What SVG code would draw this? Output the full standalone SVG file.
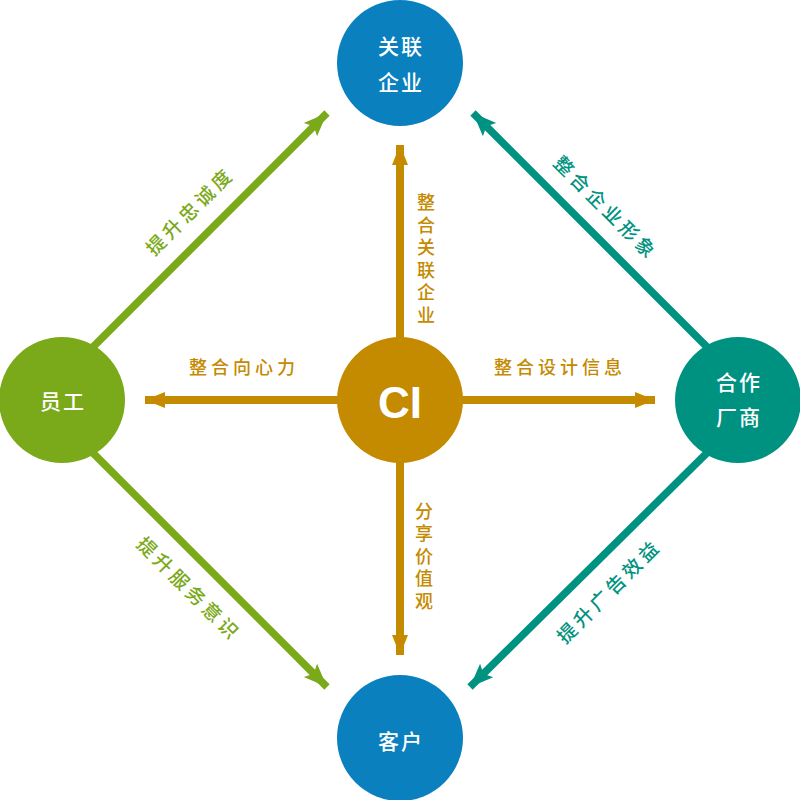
<svg xmlns="http://www.w3.org/2000/svg" width="800" height="800" viewBox="0 0 800 800">
<defs>
<marker id="mg" viewBox="0 0 10 8" refX="10" refY="4" markerWidth="3.4" markerHeight="2.5" markerUnits="strokeWidth" orient="auto"><path d="M0,0 L10,4 L0,8 L2,4 Z" fill="#7aa919"/></marker>
<marker id="mt" viewBox="0 0 10 8" refX="10" refY="4" markerWidth="3.4" markerHeight="2.5" markerUnits="strokeWidth" orient="auto"><path d="M0,0 L10,4 L0,8 L2,4 Z" fill="#009281"/></marker>
<marker id="mo" viewBox="0 0 10 8" refX="10" refY="4" markerWidth="3.3" markerHeight="2" markerUnits="strokeWidth" orient="auto"><path d="M0,0 L10,4 L0,8 Z" fill="#c48a00"/></marker>
</defs>
<style>
text{font-family:"Noto Sans CJK SC","Noto Sans",sans-serif;text-anchor:middle;dominant-baseline:central}
.w{fill:#fff;font-size:21px;font-weight:500;letter-spacing:2px}
.o{fill:#c48a00;font-size:18px;font-weight:500;letter-spacing:4px}
.v{writing-mode:vertical-rl;text-orientation:upright;letter-spacing:4.5px}
.g{fill:#7aa919;font-size:19px;font-weight:500;letter-spacing:4px}
.t{fill:#009281;font-size:19px;font-weight:500;letter-spacing:4px}
.lg{stroke:#7aa919;stroke-width:7.5;fill:none}
.lt{stroke:#009281;stroke-width:7.5;fill:none}
.lo{stroke:#c48a00;stroke-width:8;fill:none}
</style>
<g id="connectors">
<line class="lg" x1="80" y1="360" x2="327" y2="113" marker-end="url(#mg)"/>
<line class="lg" x1="80" y1="440" x2="327" y2="687" marker-end="url(#mg)"/>
<line class="lt" x1="720" y1="360" x2="473" y2="113" marker-end="url(#mt)"/>
<line class="lt" x1="720" y1="440" x2="470" y2="687" marker-end="url(#mt)"/>
<line class="lo" x1="400" y1="400" x2="400" y2="145" marker-end="url(#mo)"/>
<line class="lo" x1="400" y1="400" x2="400" y2="655" marker-end="url(#mo)"/>
<line class="lo" x1="400" y1="400" x2="145" y2="400" marker-end="url(#mo)"/>
<line class="lo" x1="400" y1="400" x2="655" y2="400" marker-end="url(#mo)"/>
<text class="g" transform="translate(189,210) rotate(-45)">提升忠诚度</text>
<text class="g" transform="translate(190,588) rotate(45)">提升服务意识</text>
<text class="t" transform="translate(607,207) rotate(45)">整合企业形象</text>
<text class="t" transform="translate(608,590) rotate(-45)">提升广告效益</text>
<text class="o" x="244" y="366">整合向心力</text>
<text class="o" x="560" y="366">整合设计信息</text>
<text class="o v" x="426" y="261">整合关联企业</text>
<text class="o v" x="424" y="558">分享价值观</text>
</g>
<g id="node-ci">
<circle cx="400" cy="400" r="63" fill="#c48a00"/>
<text x="400" y="402" style="font-family:'Liberation Sans',Arial,sans-serif;font-weight:bold;font-size:44px;fill:#fff">CI</text>
</g>
<g id="node-top">
<circle cx="400" cy="63" r="63" fill="#0a80be"/>
<text class="w" x="401" y="45">关联</text>
<text class="w" x="401" y="81">企业</text>
</g>
<g id="node-left">
<circle cx="62" cy="400" r="63" fill="#7aa919"/>
<text class="w" x="63" y="400">员工</text>
</g>
<g id="node-right">
<circle cx="738" cy="400" r="63" fill="#009281"/>
<text class="w" x="739" y="381">合作</text>
<text class="w" x="739" y="416">厂商</text>
</g>
<g id="node-bottom">
<circle cx="400" cy="738" r="63" fill="#0a80be"/>
<text class="w" x="401" y="740">客户</text>
</g>
</svg>
